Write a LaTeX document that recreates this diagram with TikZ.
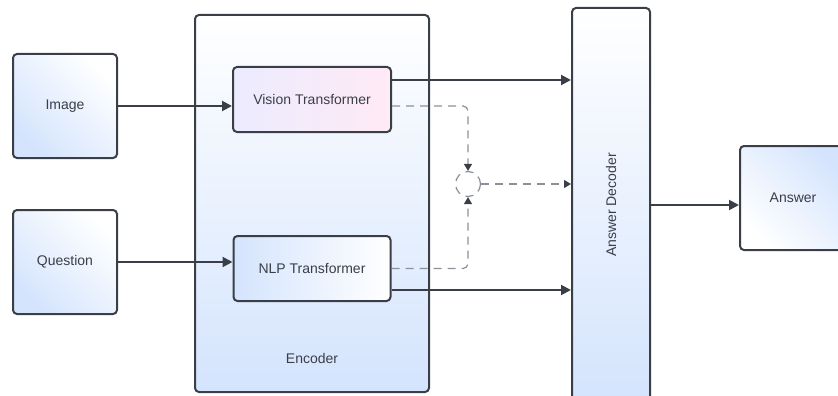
\documentclass[tikz,border=0pt]{standalone}
\usepackage{fontspec}
\setmainfont{Liberation Sans}
\usetikzlibrary{arrows.meta,calc}
\definecolor{ink}{HTML}{3A3F47}
\definecolor{dashc}{HTML}{8C9099}
\definecolor{skyb}{HTML}{D4E4FD}
\definecolor{lav}{HTML}{ECEBFF}
\definecolor{rosy}{HTML}{FFEAF5}
\begin{document}
\begin{tikzpicture}[x=1pt,y=-1pt,
  box/.style={draw=ink, line width=2pt, rounded corners=4pt, inner sep=0pt,
    font=\fontsize{14}{16}\selectfont, text=ink},
  flow/.style={draw=ink, line width=2pt, -{Triangle[length=10pt,width=10pt]}},
  hint/.style={draw=dashc, line width=1.2pt, dash pattern=on 8pt off 6pt,
    -{Triangle[length=7pt,width=8pt,color=ink]}},
  lbl/.style={font=\fontsize{14}{16}\selectfont, text=ink}]
\useasboundingbox (0,0) rectangle (838,396);

% encoder container and decoder column
\node[box, minimum width=234pt, minimum height=377pt,
  top color=white, bottom color=skyb] (enc) at (312,203.5) {};
\node[lbl] (enclbl) at (312,358) {Encoder};
\node[box, minimum width=78pt, minimum height=394pt,
  top color=white, middle color=white, bottom color=skyb] (dec) at (611,205) {};
\node[lbl, rotate=90] (declbl) at (dec.center) {Answer Decoder};

% inputs
\node[box, minimum width=104pt, minimum height=104pt,
  top color=white, bottom color=skyb, shading angle=-45] (img) at (65,106) {Image};
\node[box, minimum width=104pt, minimum height=104pt,
  top color=white, bottom color=skyb, shading angle=-45] (que) at (65,262) {Question};

% transformers
\node[box, minimum width=158pt, minimum height=65pt,
  left color=lav, right color=rosy] (vit) at (312,99.5) {Vision Transformer};
\node[box, minimum width=157pt, minimum height=65pt,
  left color=skyb, right color=white] (nlp) at (312,268.5) {NLP Transformer};

% output
\node[box, minimum width=106pt, minimum height=104pt,
  top color=skyb, bottom color=white, shading angle=-45] (ans) at (793,198) {Answer};

% fusion point
\node[circle, draw=dashc, line width=1.2pt, dash pattern=on 8pt off 6pt,
  minimum size=25pt, inner sep=0pt] (mix) at (468,184) {};

% solid data flow
\draw[flow] (img.east) -- (img.east -| vit.west);
\draw[flow] (que.east) -- (que.east -| nlp.west);
\coordinate (vout) at ($(vit.east)+(0,-19.5)$);
\draw[flow] (vout) -- (vout -| dec.west);
\coordinate (nout) at ($(nlp.east)+(0,21.5)$);
\draw[flow] (nout) -- (nout -| dec.west);
\draw[flow] (dec.east) -- (dec.east -| ans.west);

% dashed fusion paths
\coordinate (vhint) at ($(vit.east)+(0,6.5)$);
\draw[hint, rounded corners=5pt] (vhint) -| (mix.north);
\draw[hint, rounded corners=5pt] (nlp.east) -| (mix.south);
\draw[hint] (mix.east) -- (mix.east -| dec.west);
\end{tikzpicture}
\end{document}
